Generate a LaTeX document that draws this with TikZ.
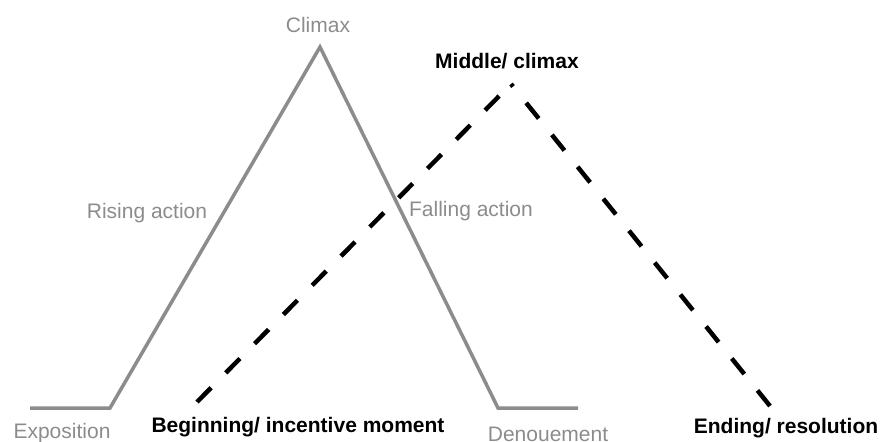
\documentclass[tikz,border=0pt]{standalone}
\usepackage{fontspec}
\setmainfont{Liberation Sans}
\usetikzlibrary{positioning}
\definecolor{arcgray}{HTML}{8C8C8C}
\tikzstyle{arc}=[draw=arcgray, line width=3.5pt]
\tikzstyle{plot}=[draw=black, line width=4.5pt, dash pattern=on 20pt off 21pt]
\tikzstyle{stage}=[text=arcgray, font=\fontsize{21}{24}\selectfont, inner sep=0pt, anchor=base]
\tikzstyle{part}=[text=black, font=\bfseries\fontsize{21}{24}\selectfont, inner sep=0pt, anchor=base]

\begin{document}
\begin{tikzpicture}[x=1pt, y=-1pt]
  \useasboundingbox (0,0) rectangle (882,441);

  % gray pyramid
  \foreach \x/\y/\name in {30/408/expo, 110/408/rise, 320/47/peak, 498/408/fall, 578/408/deno}
          \coordinate (\name) at (\x,\y);
  \draw[arc] (expo) -- (rise) -- (peak) -- (fall) -- (deno);

  % dashed three-part line
  \foreach \x/\y/\name in {197/402/begin, 511/84/middle, 770/406/ending}
          \coordinate (\name) at (\x,\y);
  \draw[plot] (begin) -- (middle);
  \draw[plot] (ending) -- (middle);

  \foreach \x/\y/\name/\lbl in {318/33/climax/Climax, 147/218/rising/Rising action,
          471/216/falling/Falling action, 62/438/exposition/Exposition, 548/441/denouement/Denouement}
          \node[stage] (\name) at (\x,\y) {\lbl};

  \foreach \x/\y/\name/\lbl in {507/69/midlbl/{Middle/ climax}, 298/432/beglbl/{Beginning/ incentive moment},
          786/433/endlbl/{Ending/ resolution}}
          \node[part] (\name) at (\x,\y) {\lbl};

\end{tikzpicture}
\end{document}
